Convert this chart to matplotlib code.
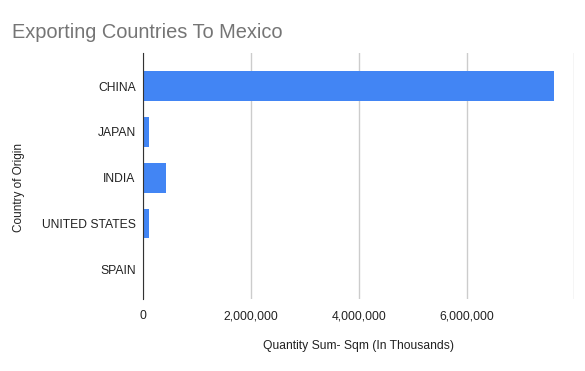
import matplotlib
matplotlib.use("Agg")
import matplotlib.pyplot as plt
from matplotlib.ticker import FuncFormatter

plt.rcParams['font.family'] = ['Liberation Sans', 'DejaVu Sans']

countries = ["CHINA", "JAPAN", "INDIA", "UNITED STATES", "SPAIN"]
quantities = [7620000, 105000, 420000, 105000, 5000]
x_ticks = [0, 2000000, 4000000, 6000000, 8000000]

fig = plt.figure(figsize=(5.85, 3.71), dpi=100)
ax = fig.add_axes([0.245, 0.194, 0.737, 0.663])

ypos = list(range(len(countries)))
ax.barh(ypos, quantities, height=0.65, color="#4285f4", zorder=3)
ax.set_ylim(len(countries) - 1 + 0.65, -0.72)
ax.set_xlim(0, 8000000)
ax.set_yticks(ypos)
ax.set_yticklabels(countries, fontsize=8.7, color="#222222")
ax.set_xticks(x_ticks)
ax.xaxis.set_major_formatter(FuncFormatter(lambda v, p: "" if v >= 8000000 else f"{int(v):,}"))
ax.tick_params(axis='x', labelsize=8.7, colors="#222222", length=0, pad=8)
ax.tick_params(axis='y', length=0, pad=5.5)
ax.grid(axis='x', color="#cccccc", linewidth=1, zorder=0)
for s in ["top", "right", "bottom"]:
    ax.spines[s].set_visible(False)
ax.spines["left"].set_color("#333333")
ax.spines["left"].set_zorder(4)

ax.set_xlabel("Quantity Sum- Sqm (In Thousands)", fontsize=8.7, color="#222222", labelpad=13)
fig.text(19/585, 1 - 187.5/371, "Country of Origin", rotation=90, fontsize=8.5,
         color="#222222", ha="center", va="center")
fig.text(12/585, 1 - 32/371, "Exporting Countries To Mexico", fontsize=14.4,
         color="#757575", ha="left", va="center")

fig.savefig("out.png", dpi=100)
